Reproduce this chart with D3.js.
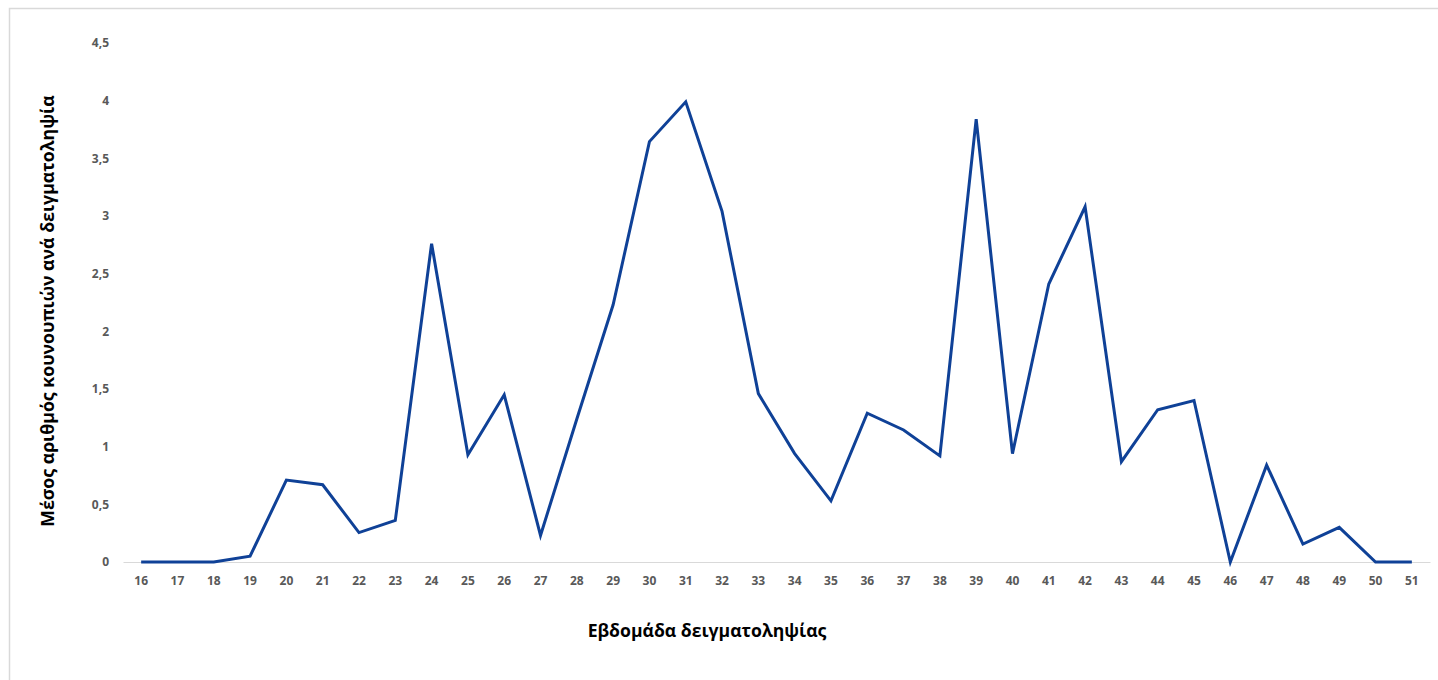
<!DOCTYPE html>
<html>
<head>
<meta charset="utf-8">
<script src="https://cdn.jsdelivr.net/npm/d3@7"></script>
<style>
  body { margin: 0; background: #fff; }
  .tick text { font-family: "Open Sans", sans-serif; font-weight: bold; fill: #595959; }
  .title { font-family: "Open Sans", sans-serif; font-weight: bold; fill: #000; }
</style>
</head>
<body>
<div id="viz"></div>
<script>
// weeks (x categories) and mean value per sample
var weeks = d3.range(16, 52);
var values = [0, 0, 0, 0.05, 0.71, 0.67, 0.255, 0.36, 2.76, 0.93,
              1.45, 0.23, 1.24, 2.23, 3.645, 3.99, 3.04, 1.46, 0.94, 0.53,
              1.29, 1.145, 0.92, 3.84, 0.94, 2.41, 3.08, 0.87, 1.32, 1.40,
              0, 0.84, 0.156, 0.30, 0, 0];
var yTicks = [0, 0.5, 1, 1.5, 2, 2.5, 3, 3.5, 4, 4.5];
var xTitle = "Εβδομάδα δειγματοληψίας";
var yTitle = "Μέσος αριθμός κουνουπιών ανά δειγματοληψία";

var width = 1438, height = 680;

var svg = d3.select("#viz").append("svg")
    .attr("width", width)
    .attr("height", height);

// outer frame
svg.append("rect")
    .attr("x", 9.5).attr("y", 8.5)
    .attr("width", width).attr("height", height)
    .attr("fill", "none")
    .attr("stroke", "#d9d9d9")
    .attr("stroke-width", 1.5);

var x = d3.scaleBand().domain(weeks).range([123, 1430]);
var y = d3.scaleLinear().domain([0, 4.5]).range([562, 43]);

var fmt = function(d) { return String(d).replace(".", ","); };

// y axis labels only
var yAxis = svg.append("g")
    .attr("transform", "translate(112,0)")
    .call(d3.axisLeft(y).tickValues(yTicks).tickFormat(fmt).tickSize(0));
yAxis.select(".domain").remove();
yAxis.selectAll("text").attr("font-size", 12).attr("dx", 0);

// x axis
var xAxis = svg.append("g")
    .attr("transform", "translate(0,562)")
    .call(d3.axisBottom(x).tickSize(0).tickPadding(14));
xAxis.select(".domain").attr("stroke", "#d9d9d9").attr("stroke-width", 1);
xAxis.selectAll("text").attr("font-size", 12);

var line = d3.line()
    .x(function(d, i) { return x(weeks[i]) + x.bandwidth() / 2; })
    .y(function(d) { return y(d); });

svg.append("path")
    .datum(values)
    .attr("fill", "none")
    .attr("stroke", "#0f4197")
    .attr("stroke-width", 3)
    .attr("stroke-linejoin", "miter")
    .attr("d", line);

svg.append("text")
    .attr("class", "title")
    .attr("x", 707).attr("y", 637)
    .attr("text-anchor", "middle")
    .attr("font-size", 17.6)
    .text(xTitle);

svg.append("text")
    .attr("class", "title")
    .attr("transform", "translate(54,311)rotate(-90)")
    .attr("text-anchor", "middle")
    .attr("font-size", 17.7)
    .text(yTitle);
</script>
</body>
</html>
